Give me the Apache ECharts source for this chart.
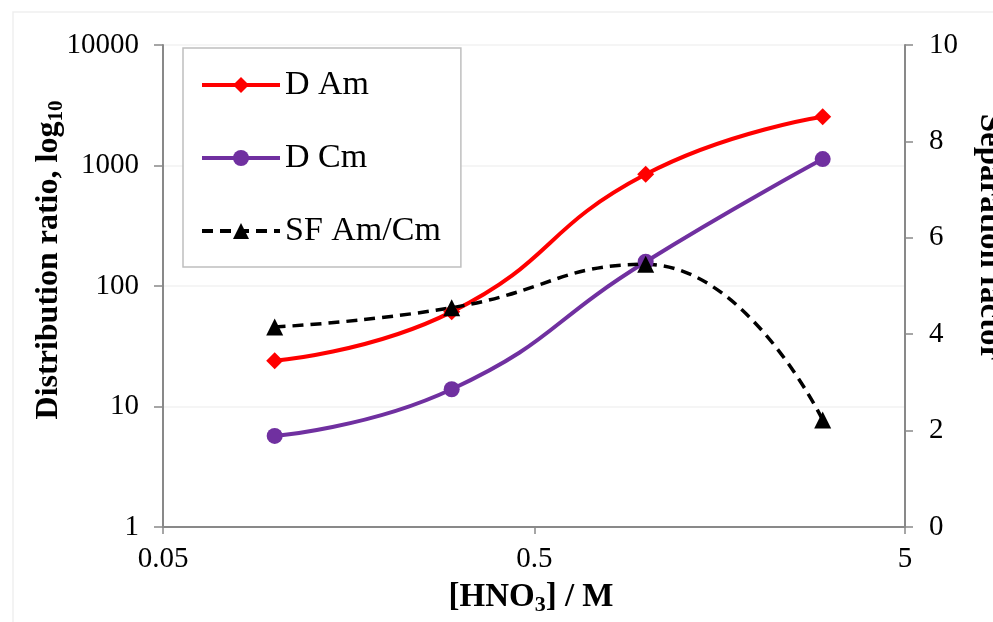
<!DOCTYPE html>
<html>
<head>
<meta charset="utf-8">
<script src="https://cdn.jsdelivr.net/npm/echarts@6/dist/echarts.min.js"></script>
<style>
html,body{margin:0;padding:0;background:#fff;}
#chart{width:993px;height:622px;}
</style>
</head>
<body>
<div id="chart"></div>
<script>
// HNO3 concentration (M)
const hno3 = [0.1, 0.3, 1, 3];
// Distribution ratios
const dAm = [24, 61, 845, 2540];
const dCm = [5.7, 13.9, 159, 1130];
// Separation factor Am/Cm
const sfAmCm = [4.15, 4.55, 5.45, 2.22];
// Tick labels
const xTicks = ['0.05', '0.5', '5'];
const yLeftTicks = ['1', '10', '100', '1000', '10000'];
const yRightTicks = ['0', '2', '4', '6', '8', '10'];

const pairs = (xs, ys) => xs.map((x, i) => [x, ys[i]]);
const nearestLog = (list, v) => {
  for (const s of list) {
    if (Math.abs(Math.log10(Number(s)) - Math.log10(v)) < 0.05) return s;
  }
  return '';
};
const FONT = '"Liberation Serif", "Times New Roman", serif';
const axisGray = '#898989';

const chart = echarts.init(document.getElementById('chart'), null, {renderer: 'canvas'});
chart.setOption({
  backgroundColor: '#fff',
  animation: false,
  textStyle: {fontFamily: FONT, color: '#000'},
  grid: {left: 163, right: 88, top: 45, bottom: 95, containLabel: false},
  legend: {
    orient: 'vertical',
    left: 183, top: 48,
    padding: [20, 20, 19, 17],
    itemGap: 39,
    itemWidth: 78,
    itemHeight: 20,
    backgroundColor: '#fff',
    borderColor: '#BFBFBF',
    borderWidth: 1.5,
    lineStyle: {width: 4},
    textStyle: {fontFamily: FONT, fontSize: 34, color: '#000'},
    data: ['D Am', 'D Cm', 'SF Am/Cm']
  },
  xAxis: {
    type: 'log', logBase: 10, min: 0.05, max: 5, interval: 1,
    axisLine: {lineStyle: {color: axisGray, width: 2}},
    axisTick: {show: true, length: 7, lineStyle: {color: axisGray, width: 1.5}},
    axisLabel: {
      fontFamily: FONT, fontSize: 29, color: '#000', margin: 18,
      showMinLabel: true, showMaxLabel: true, hideOverlap: false,
      formatter: v => nearestLog(xTicks, v)
    },
    splitLine: {show: false}
  },
  yAxis: [{
    type: 'log', logBase: 10, min: 1, max: 10000,
    axisLine: {show: true, lineStyle: {color: axisGray, width: 2}},
    axisTick: {show: true, length: 9, lineStyle: {color: axisGray, width: 1.5}},
    axisLabel: {
      fontFamily: FONT, fontSize: 29, color: '#000', margin: 24,
      formatter: v => nearestLog(yLeftTicks, v)
    },
    splitLine: {show: true, lineStyle: {color: '#F2F2F2', width: 1.5}}
  }, {
    type: 'value', min: 0, max: 10, interval: 2, position: 'right',
    axisLine: {show: true, lineStyle: {color: axisGray, width: 2}},
    axisTick: {show: true, length: 8, lineStyle: {color: axisGray, width: 1.5}},
    axisLabel: {
      fontFamily: FONT, fontSize: 29, color: '#000', margin: 24,
      formatter: v => { const s = String(v); return yRightTicks.includes(s) ? s : ''; }
    },
    splitLine: {show: false}
  }],
  graphic: [
    {type: 'rect', z: -10, silent: true, shape: {x: 13, y: 12, width: 1100, height: 800},
     style: {fill: 'none', stroke: '#EFEFEF', lineWidth: 1.5}},
    {type: 'text', x: 49, y: 260, rotation: Math.PI / 2,
     style: {text: '{m|Distribution ratio, log}{s|10}', align: 'center', verticalAlign: 'middle',
       rich: {m: {fontFamily: FONT, fontSize: 32, fontWeight: 'bold', fill: '#000', lineHeight: 36},
              s: {fontFamily: FONT, fontSize: 21, fontWeight: 'bold', fill: '#000', padding: [16, 0, 0, 0], lineHeight: 36}}}},
    {type: 'text', x: 990, y: 237, rotation: -Math.PI / 2,
     style: {text: 'Separation factor', align: 'center', verticalAlign: 'middle',
       fontFamily: FONT, fontSize: 33, fontWeight: 'bold', fill: '#000'}},
    {type: 'text', x: 531, y: 597,
     style: {text: '{m|[HNO}{s|3}{m|] / M}', align: 'center', verticalAlign: 'middle',
       rich: {m: {fontFamily: FONT, fontSize: 33, fontWeight: 'bold', fill: '#000', lineHeight: 36},
              s: {fontFamily: FONT, fontSize: 22, fontWeight: 'bold', fill: '#000', padding: [16, 0, 0, 0], lineHeight: 36}}}}
  ],
  series: [
    {name: 'D Am', type: 'line', yAxisIndex: 0, smooth: 0.5,
     data: pairs(hno3, dAm), symbol: 'diamond', symbolSize: 17,
     lineStyle: {color: '#FF0000', width: 4}, itemStyle: {color: '#FF0000'}},
    {name: 'D Cm', type: 'line', yAxisIndex: 0, smooth: 0.5,
     data: pairs(hno3, dCm), symbol: 'circle', symbolSize: 16,
     lineStyle: {color: '#7030A0', width: 4}, itemStyle: {color: '#7030A0'}},
    {name: 'SF Am/Cm', type: 'line', yAxisIndex: 1, smooth: 0.5,
     data: pairs(hno3, sfAmCm), symbol: 'triangle', symbolSize: 17,
     lineStyle: {color: '#000', width: 3.5, type: [11, 7]}, itemStyle: {color: '#000'}}
  ]
});
</script>
</body>
</html>
